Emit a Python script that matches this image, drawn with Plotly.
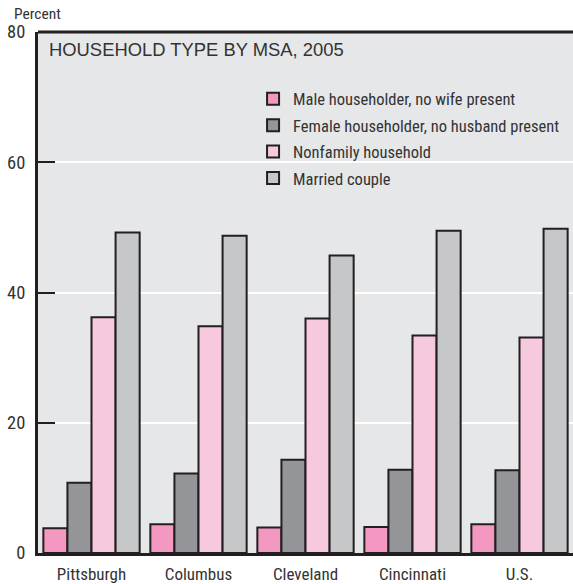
import plotly.graph_objects as go

categories = ["Pittsburgh", "Columbus", "Cleveland", "Cincinnati", "U.S."]
male_no_wife = [3.8, 4.4, 3.9, 4.0, 4.4]
female_no_husband = [10.8, 12.2, 14.3, 12.8, 12.7]
nonfamily = [36.2, 34.8, 36.0, 33.4, 33.1]
married = [49.2, 48.7, 45.7, 49.5, 49.8]

series = [
    ("Male householder, no wife present", male_no_wife, "#f398c0"),
    ("Female householder, no husband present", female_no_husband, "#939598"),
    ("Nonfamily household", nonfamily, "#f7c9df"),
    ("Married couple", married, "#c6c7c9"),
]

DARK = "#231f20"
TXT = "#333333"
NARROW = "Liberation Sans Narrow, Arial Narrow, Roboto Condensed, sans-serif"

fig = go.Figure()
for i, (name, vals, col) in enumerate(series):
    fig.add_trace(go.Bar(
        name=name, x=categories, y=vals, legendgroup=f"g{i}",
        marker=dict(color=col, line=dict(color=DARK, width=2)),
    ))

fig.update_layout(
    width=573, height=584,
    margin=dict(l=38, r=0, t=32, b=28),
    paper_bgcolor="white", plot_bgcolor="#e6e7e9",
    barmode="group", bargap=0.1, bargroupgap=0,
    font=dict(family=NARROW, color=TXT, size=16),
    showlegend=True,
    legend=dict(
        x=0.402, y=0.905, xanchor="left", yanchor="top",
        bgcolor="rgba(0,0,0,0)", traceorder="grouped", tracegroupgap=2,
        font=dict(family=NARROW, size=16.5, color=TXT),
    ),
    xaxis=dict(
        showgrid=False, showline=True, linecolor=DARK, linewidth=3,
        ticks="", tickfont=dict(family=NARROW, size=17, color=TXT),
        range=[-0.5, 4.5], ticklabelstandoff=4,
    ),
    yaxis=dict(
        range=[0, 80], tickvals=[0, 20, 40, 60, 80],
        showgrid=True, gridcolor="white", gridwidth=2,
        showline=True, linecolor=DARK, linewidth=3,
        ticks="inside", ticklen=17, tickwidth=2, tickcolor=DARK,
        tickfont=dict(family=NARROW, size=18.5, color=TXT),
        zeroline=False, ticklabelstandoff=6,
    ),
    shapes=[dict(type="line", xref="paper", yref="paper", x0=0, x1=1, y0=1, y1=1,
                 line=dict(color=DARK, width=3))],
    annotations=[
        dict(text="Percent", xref="paper", yref="paper", x=-0.049, y=1.0345,
             xanchor="left", yanchor="middle", showarrow=False,
             font=dict(family=NARROW, size=15.5, color=TXT)),
        dict(text="HOUSEHOLD TYPE BY MSA, 2005", xref="paper", yref="paper",
             x=0.016, y=0.99, xanchor="left", yanchor="top", showarrow=False,
             font=dict(family="Liberation Sans, Arial, sans-serif", size=18.4, color=TXT)),
    ],
)

fig.write_html("out.html", config={"displayModeBar": False},
               post_script="document.body.style.margin='0px';")
